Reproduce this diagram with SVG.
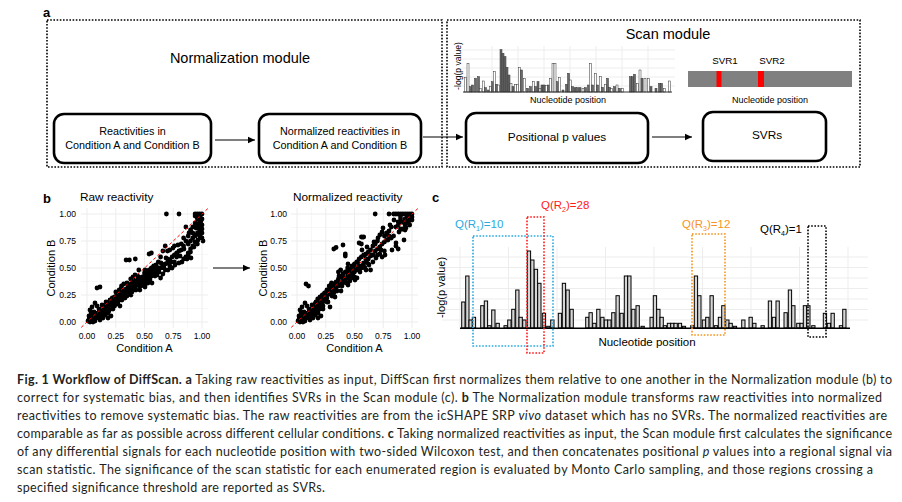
<svg xmlns="http://www.w3.org/2000/svg" width="902" height="502" viewBox="0 0 902 502">
<style>
text{font-family:"Liberation Sans",Arial,sans-serif;fill:#000}
.lbl{font-weight:bold;font-size:13px}
.mod{stroke:#000;stroke-width:1.6;stroke-dasharray:1.6 1.6;fill:none}
.box{fill:#fff;stroke:#000;stroke-width:2.6}
.bt{font-size:10.8px;text-anchor:middle}
.ar{stroke:#000;stroke-width:1.2;fill:none;marker-end:url(#ah)}
.g{stroke:#ebebeb;stroke-width:0.9;fill:none}
.gm{stroke:#f2f2f2;stroke-width:0.6;fill:none}
.tk{font-size:8.6px;fill:#4d4d4d}
.ax{font-size:11px}
.ab rect{stroke:#333;stroke-width:0.5}
.w{fill:#fff}.d{fill:#6a6a6a}
.cb rect{fill:#d6d6d6;stroke:#000;stroke-width:1}
.q{font-size:11.5px}
.pt{stroke:#000;stroke-width:4.8;stroke-linecap:round;fill:none}
.cap{font-family:Lato,"Open Sans",sans-serif;font-size:12.5px;fill:#231f20}
</style>
<defs>
<marker id="ah" markerWidth="8" markerHeight="8" refX="7" refY="4" orient="auto" markerUnits="userSpaceOnUse">
<path d="M0,0.8 L7,4 L0,7.2 Z" fill="#000"/>
</marker>
</defs>
<rect width="902" height="502" fill="#fff"/>

<!-- Panel a -->
<text class="lbl" x="43" y="17">a</text>
<g id="normalization-module">
<rect class="mod" x="47" y="20" width="395" height="147"/>
<text x="240" y="63" style="font-size:14.5px;text-anchor:middle">Normalization module</text>
</g>
<g id="scan-module">
<rect class="mod" x="447" y="20" width="413" height="147"/>
<text x="668" y="39" style="font-size:14.5px;text-anchor:middle">Scan module</text>
</g>
<g id="node-raw">
<rect class="box" x="54" y="114" width="157" height="49" rx="10"/>
<text class="bt" x="132.5" y="135">Reactivities in</text>
<text class="bt" x="132.5" y="149">Condition A and Condition B</text>
</g>
<g id="node-normalized">
<rect class="box" x="259" y="114" width="162" height="49" rx="10"/>
<text class="bt" x="340" y="135">Normalized reactivities in</text>
<text class="bt" x="340" y="149">Condition A and Condition B</text>
</g>
<g id="node-pvalues">
<rect class="box" x="466" y="113" width="182" height="50" rx="10"/>
<text x="557" y="141" style="font-size:11.8px;text-anchor:middle">Positional p values</text>
</g>
<g id="node-svrs">
<rect class="box" x="703" y="112" width="123" height="49" rx="10"/>
<text x="767" y="139" style="font-size:11.8px;text-anchor:middle">SVRs</text>
</g>

<!-- small p-value chart -->
<g id="mini-pvalue-chart">
<path class="g" d="M462 50H675M462 59H675M462 68H675M462 77H675M462 86H675M492 46V93M518 46V93M544 46V93M570 46V93M596 46V93M622 46V93M648 46V93"/>
<g class="ab">
<rect class="w" x="464.5" y="77.3" width="2" height="14.7"/>
<rect class="w" x="467" y="63.3" width="2" height="28.7"/>
<rect class="d" x="469.5" y="86.7" width="2" height="5.3"/>
<rect class="d" x="471.5" y="85" width="2" height="7"/>
<rect class="d" x="474.5" y="78.3" width="2" height="13.7"/>
<rect class="d" x="477.5" y="76.7" width="2" height="15.3"/>
<rect class="w" x="479.5" y="88.3" width="2" height="3.7"/>
<rect class="w" x="482.5" y="81" width="2" height="11"/>
<rect class="d" x="484.5" y="87.7" width="2" height="4.3"/>
<rect class="d" x="487.5" y="90" width="2" height="2"/>
<rect class="w" x="489.5" y="86.7" width="2" height="5.3"/>
<rect class="d" x="491.5" y="81.7" width="2" height="10.3"/>
<rect class="w" x="493.5" y="71.7" width="2" height="20.3"/>
<rect class="d" x="495.5" y="84.3" width="2" height="7.7"/>
<rect class="w" x="497.5" y="85" width="2" height="7"/>
<rect class="d" x="500" y="49.7" width="2" height="42.3"/>
<rect class="d" x="502" y="53.3" width="2" height="38.7"/>
<rect class="d" x="504" y="56.7" width="2" height="35.3"/>
<rect class="d" x="506" y="67.3" width="2" height="24.7"/>
<rect class="d" x="508" y="75" width="2" height="17"/>
<rect class="w" x="510" y="83.3" width="2" height="8.7"/>
<rect class="d" x="512" y="86.7" width="2" height="5.3"/>
<rect class="w" x="514.5" y="84.3" width="2" height="7.7"/>
<rect class="w" x="516.5" y="84.3" width="2" height="7.7"/>
<rect class="w" x="518.5" y="67.3" width="2" height="24.7"/>
<rect class="d" x="520.5" y="70" width="2" height="22"/>
<rect class="w" x="523.5" y="78.3" width="2" height="13.7"/>
<rect class="d" x="526.5" y="88.3" width="2" height="3.7"/>
<rect class="d" x="529.5" y="86.7" width="2" height="5.3"/>
<rect class="w" x="532.5" y="81.7" width="2" height="10.3"/>
<rect class="d" x="534.5" y="86.7" width="2" height="5.3"/>
<rect class="d" x="537" y="81.7" width="2" height="10.3"/>
<rect class="w" x="539" y="88.3" width="2" height="3.7"/>
<rect class="d" x="541" y="85" width="2" height="7"/>
<rect class="d" x="543" y="85" width="2" height="7"/>
<rect class="w" x="545.5" y="85.7" width="2" height="6.3"/>
<rect class="d" x="547.5" y="85" width="2" height="7"/>
<rect class="w" x="549.5" y="78.3" width="2" height="13.7"/>
<rect class="w" x="552" y="63.3" width="2" height="28.7"/>
<rect class="w" x="554" y="63.3" width="2" height="28.7"/>
<rect class="d" x="556.5" y="81.7" width="2" height="10.3"/>
<rect class="w" x="558.5" y="77.7" width="2" height="14.3"/>
<rect class="d" x="562" y="90" width="2" height="2"/>
<rect class="d" x="565.5" y="84.3" width="2" height="7.7"/>
<rect class="d" x="567.5" y="73.3" width="2" height="18.7"/>
<rect class="w" x="569.5" y="80" width="2" height="12"/>
<rect class="d" x="571.5" y="86.7" width="2" height="5.3"/>
<rect class="d" x="574" y="87.7" width="2" height="4.3"/>
<rect class="d" x="576.5" y="87.7" width="2" height="4.3"/>
<rect class="d" x="579" y="87.7" width="2" height="4.3"/>
<rect class="w" x="582" y="88.3" width="2" height="3.7"/>
<rect class="d" x="584.5" y="87.7" width="2" height="4.3"/>
<rect class="d" x="587.5" y="85" width="2" height="7"/>
<rect class="w" x="589.5" y="63.3" width="2" height="28.7"/>
<rect class="d" x="591.5" y="85" width="2" height="7"/>
<rect class="w" x="594.5" y="73.3" width="2" height="18.7"/>
<rect class="d" x="596.5" y="85" width="2" height="7"/>
<rect class="w" x="599.5" y="76.7" width="2" height="15.3"/>
<rect class="d" x="601.5" y="87.3" width="2" height="4.7"/>
<rect class="w" x="604.5" y="84.3" width="2" height="7.7"/>
<rect class="d" x="606.5" y="78.3" width="2" height="13.7"/>
<rect class="d" x="608.5" y="87.3" width="2" height="4.7"/>
<rect class="w" x="610.5" y="88.3" width="2" height="3.7"/>
<rect class="d" x="613.5" y="86.7" width="2" height="5.3"/>
<rect class="w" x="616" y="85" width="2" height="7"/>
<rect class="d" x="618.5" y="88.3" width="2" height="3.7"/>
<rect class="w" x="621.5" y="88.3" width="2" height="3.7"/>
<rect class="d" x="629.5" y="76.7" width="2" height="15.3"/>
<rect class="d" x="631.5" y="76.7" width="2" height="15.3"/>
<rect class="d" x="633.5" y="74.3" width="2" height="17.7"/>
<rect class="w" x="636.5" y="83.3" width="2" height="8.7"/>
<rect class="w" x="639" y="70" width="2" height="22"/>
<rect class="d" x="641" y="78.3" width="2" height="13.7"/>
<rect class="w" x="644" y="78.3" width="2" height="13.7"/>
<rect class="w" x="647.5" y="78.3" width="2" height="13.7"/>
<rect class="d" x="650" y="86.7" width="2" height="5.3"/>
<rect class="d" x="655" y="88.3" width="2" height="3.7"/>
<rect class="d" x="658.5" y="83.3" width="2" height="8.7"/>
<rect class="d" x="660.5" y="83.3" width="2" height="8.7"/>
<rect class="w" x="663.5" y="88.3" width="2" height="3.7"/>
<rect class="w" x="668.5" y="81" width="2" height="11"/>
</g>
<path d="M463 92H672" stroke="#333" stroke-width="1"/>
<text transform="translate(461,66) rotate(-90)" style="font-size:8.6px;text-anchor:middle">-log(p value)</text>
<text x="568" y="103" style="font-size:9px;text-anchor:middle">Nucleotide position</text>
</g>

<!-- SVR track -->
<g id="svr-track">
<rect x="688" y="71" width="164" height="16" fill="#808080"/>
<rect x="716.5" y="71" width="5" height="16" fill="#ff0000"/>
<rect x="758" y="71" width="6" height="16" fill="#ff0000"/>
<text x="725" y="64" style="font-size:9.8px;text-anchor:middle">SVR1</text>
<text x="772" y="64" style="font-size:9.8px;text-anchor:middle">SVR2</text>
<text x="770" y="103" style="font-size:9px;text-anchor:middle">Nucleotide position</text>
</g>

<!-- Panel b -->
<text class="lbl" x="43" y="203">b</text>
<g id="plot-raw">
<text x="80" y="201" style="font-size:11.8px">Raw reactivity</text>
<path class="gm" d="M81 308.5H208M81 281.5H208M81 254.5H208M81 227.5H208M101.4 208V328M130.1 208V328M158.9 208V328M187.6 208V328"/>
<path class="g" d="M81 322H208M81 295H208M81 268H208M81 241H208M81 214H208M87 208V328M115.75 208V328M144.5 208V328M173.25 208V328M202 208V328"/>
<path class="pt" d="M88 321h0M89 319h0M90 322h0M91 318h0M92 320h0M93 316h0M94 319h0M95 321h0M96 315h0M97 317h0M98 313h0M99 318h0M100 312h0M101 316h0M102 310h0M103 314h0M104 312h0M105 315h0M106 308h0M107 311h0M108 313h0M109 306h0M110 309h0M89 316h0M91 313h0M94 312h0M96 318h0M99 309h0M90 310h0M93 322h0M100 320h0M103 318h0M105 306h0M108 318h0M111 316h0M112 304h0M106 302h0M97 306h0M92 307h0M95 303h0M97 288h0M100 287h0M105.4 309h0M105.4 306h0M105.4 311h0M107.7 307h0M107.7 303h0M107.7 309h0M110 306h0M110 300h0M110 304h0M110 308h0M112.3 305h0M112.3 298h0M112.3 301h0M114.6 303h0M114.6 297h0M114.6 306h0M116.9 300h0M116.9 294h0M116.9 298h0M116.9 304h0M119.2 299h0M119.2 295h0M119.2 290h0M121.5 298h0M121.5 293h0M121.5 296h0M121.5 287h0M123.8 295h0M123.8 291h0M123.8 297h0M123.8 284h0M126.1 294h0M126.1 289h0M126.1 292h0M126.1 260h0M128.4 292h0M128.4 286h0M128.4 290h0M129.4 260h0M130.7 291h0M130.7 284h0M130.7 289h0M130.7 279h0M133 289h0M133 283h0M133 286h0M133 277h0M135.3 287h0M135.3 281h0M135.3 284h0M135.3 259h0M137.6 285h0M137.6 280h0M137.6 283h0M137.6 276h0M139.9 284h0M139.9 278h0M139.9 282h0M139.9 290h0M142.2 283h0M142.2 277h0M142.2 280h0M144.5 281h0M144.5 273h0M144.5 278h0M144.5 284h0M146.8 279h0M146.8 272h0M146.8 276h0M149.1 278h0M149.1 270h0M149.1 274h0M149.1 254h0M151.4 276h0M151.4 268h0M151.4 272h0M151.4 253h0M153.7 273h0M153.7 266h0M153.7 271h0M156 272h0M156 265h0M156 269h0M158.3 270h0M158.3 262h0M158.3 268h0M160.6 268h0M160.6 257h0M160.6 278h0M162.9 266h0M162.9 274h0M162.9 251h0M165.2 264h0M165.2 270h0M165.2 246h0M166.4 214h0M167.5 263h0M167.5 259h0M167.5 251h0M169.8 260h0M169.8 266h0M169.8 250h0M172.1 257h0M172.1 268h0M174.4 255h0M174.4 262h0M174.4 246h0M176.7 253h0M176.7 257h0M179 214h0M179 251h0M179 263h0M181.3 250h0M181.3 244h0M183.6 246h0M183.6 259h0M183.6 238h0M185.9 257h0M185.9 241h0M185.9 227h0M188.2 253h0M188.2 244h0M188.2 236h0M188.2 255h0M190.5 252h0M190.5 241h0M190.5 230h0M190.5 249h0M192.8 246h0M192.8 238h0M192.8 227h0M192.8 233h0M195.1 242h0M195.1 236h0M195.1 223h0M195.1 216h0M195.1 214h0M197.4 244h0M197.4 233h0M197.4 225h0M197.4 214h0M197.4 219h0M199.7 236h0M199.7 227h0M199.7 222h0M199.7 214h0M199.7 231h0M202 233h0M202 225h0M202 219h0M202 214h0M202 238h0M202 229h0M115.8 292h0M121.5 286h0M138.8 270h0M118 302h0M113 309h0M102 305h0M125 298h0M131 295h0M140 287h0M148 283h0M155 276h0M120 306h0M104 315h0M106 313h0M109 311h0M111 307h0M113 304h0M115 301h0M117 302h0M119 297h0M122 300h0M124 292h0M127 296h0M129 288h0M132 292h0M134 287h0M136 290h0M138 282h0M141 286h0M143 279h0M145 287h0M147 282h0M150 279h0M152 283h0M154 268h0M157 275h0M159 272h0M161 263h0M164 268h0M166 258h0M168 270h0M171 262h0M173 248h0M175 265h0M178 245h0M180 256h0M182 262h0M184 249h0M187 259h0M189 233h0M191 258h0M194 247h0M196 228h0M198 240h0M201 221h0M203 241h0M200 218h0M127 283h0M131 279h0M120 290h0M145 270h0M135 275h0"/>
<path d="M81.25 327.4L207.75 208.6" stroke="#ff0000" stroke-width="1" stroke-dasharray="3 2.5"/>
<g class="tk" style="text-anchor:end">
<text x="76" y="325">0.00</text><text x="76" y="298">0.25</text><text x="76" y="271">0.50</text><text x="76" y="244">0.75</text><text x="76" y="217">1.00</text>
</g>
<g class="tk" style="text-anchor:middle">
<text x="87" y="339">0.00</text><text x="115.75" y="339">0.25</text><text x="144.5" y="339">0.50</text><text x="173.25" y="339">0.75</text><text x="202" y="339">1.00</text>
</g>
<text class="ax" x="144.5" y="352" style="text-anchor:middle">Condition A</text>
<text class="ax" transform="translate(55,268) rotate(-90)" style="text-anchor:middle">Condition B</text>
</g>

<g id="plot-normalized">
<text x="293" y="201" style="font-size:11.8px">Normalized reactivity</text>
<path class="gm" d="M291 308.5H418M291 281.5H418M291 254.5H418M291 227.5H418M311.4 208V328M340.1 208V328M368.9 208V328M397.6 208V328"/>
<path class="g" d="M291 322H418M291 295H418M291 268H418M291 241H418M291 214H418M297 208V328M325.75 208V328M354.5 208V328M383.25 208V328M412 208V328"/>
<path class="pt" d="M298 321h0M299 319h0M300 322h0M301 318h0M302 320h0M303 316h0M304 319h0M305 321h0M306 315h0M307 317h0M308 313h0M309 318h0M310 312h0M311 316h0M312 310h0M313 314h0M314 312h0M315 315h0M316 308h0M317 311h0M318 313h0M319 306h0M320 309h0M299 316h0M301 313h0M304 312h0M306 318h0M309 309h0M300 310h0M303 322h0M310 320h0M313 318h0M315 306h0M318 318h0M321 316h0M322 304h0M316 302h0M307 306h0M302 307h0M305 303h0M308.5 286h0M306 284h0M315.4 307h0M315.4 303h0M315.4 309h0M317.7 305h0M317.7 299h0M317.7 306h0M320 303h0M320 297h0M320 305h0M320 300h0M322.3 300h0M322.3 295h0M322.3 303h0M324.6 298h0M324.6 293h0M324.6 301h0M326.9 295h0M326.9 291h0M326.9 298h0M326.9 290h0M329.2 294h0M329.2 289h0M329.2 286h0M331.5 293h0M331.5 286h0M331.5 291h0M331.5 283h0M333.8 290h0M333.8 284h0M333.8 293h0M333.8 249h0M336.1 287h0M336.1 282h0M336.1 290h0M336.1 247.5h0M338.4 286h0M338.4 279h0M338.4 284h0M338.4 272h0M340.7 284h0M340.7 277h0M340.7 283h0M340.7 270h0M343 282h0M343 274h0M343 281h0M343 245h0M345.3 280h0M345.3 272h0M345.3 256h0M345.3 254h0M347.6 278h0M347.6 271h0M347.6 276h0M347.6 268h0M349.9 277h0M349.9 269h0M349.9 273h0M349.9 281h0M352.2 274h0M352.2 266h0M352.2 271h0M354.5 272h0M354.5 264h0M354.5 269h0M354.5 277h0M356.8 270h0M356.8 262h0M356.8 268h0M359.1 268h0M359.1 259h0M359.1 266h0M359.1 243h0M361.4 266h0M361.4 257h0M361.4 268h0M361.4 237h0M361.4 244h0M363.7 263h0M363.7 255h0M363.7 266h0M363.7 237h0M366 262h0M366 254h0M366 259h0M366 270h0M368.3 259h0M368.3 252h0M368.3 264h0M370.6 256h0M370.6 250h0M370.6 270h0M372.9 255h0M372.9 246h0M372.9 262h0M375.2 251h0M375.2 214h0M375.2 244h0M377.5 249h0M377.5 255h0M377.5 241h0M379.8 247h0M379.8 254h0M379.8 235h0M382.1 244h0M382.1 257h0M382.1 232h0M384.4 242h0M384.4 236h0M384.4 251h0M386.7 240h0M386.7 233h0M389 236h0M389 214h0M389 231h0M391.3 238h0M391.3 227h0M393.6 236h0M393.6 214h0M395.9 246h0M395.9 227h0M395.9 214h0M398.2 249h0M398.2 222h0M398.2 214h0M398.2 225h0M400.5 229h0M400.5 218h0M400.5 214h0M400.5 216h0M402.8 229h0M402.8 222h0M402.8 214h0M405.1 225h0M405.1 214h0M405.1 219h0M405.1 230h0M407.4 223h0M407.4 214h0M407.4 216h0M409.7 218h0M409.7 214h0M409.7 225h0M412 220h0M412 214h0M412 217h0M323 309h0M328 302h0M335 297h0M341 291h0M348 285h0M357 278h0M330 307h0M312 305h0M314 313h0M316 310h0M319 308h0M321 300h0M323 306h0M325 296h0M327 302h0M330 290h0M332 296h0M334 285h0M337 291h0M339 276h0M342 286h0M344 278h0M346 283h0M348 264h0M351 278h0M353 268h0M355 280h0M358 262h0M360 272h0M362 250h0M365 268h0M367 247h0M369 265h0M372 255h0M374 242h0M376 258h0M378 238h0M381 250h0M383 228h0M385 255h0M388 240h0M390 225h0M392 250h0M394 220h0M396 243h0M399 232h0M401 222h0M404 240h0M406 228h0M409 221h0"/>
<path d="M291.25 327.4L417.75 208.6" stroke="#ff0000" stroke-width="1" stroke-dasharray="3 2.5"/>
<g class="tk" style="text-anchor:end">
<text x="287" y="325">0.00</text><text x="287" y="298">0.25</text><text x="287" y="271">0.50</text><text x="287" y="244">0.75</text><text x="287" y="217">1.00</text>
</g>
<g class="tk" style="text-anchor:middle">
<text x="297" y="339">0.00</text><text x="325.75" y="339">0.25</text><text x="354.5" y="339">0.50</text><text x="383.25" y="339">0.75</text><text x="412" y="339">1.00</text>
</g>
<text class="ax" x="354.5" y="352" style="text-anchor:middle">Condition A</text>
<text class="ax" transform="translate(267,268) rotate(-90)" style="text-anchor:middle">Condition B</text>
</g>

<g id="connectors">
<path class="ar" d="M215 140H255"/>
<path class="ar" d="M423 137H463"/>
<path class="ar" d="M652 137H692"/>
<path class="ar" d="M213 268H250"/>
</g>

<!-- Panel c -->
<text class="lbl" x="432" y="202">c</text>
<g id="scan-chart">
<path class="g" d="M442 257H868M442 267.5H868M442 278H868M442 288.5H868M442 299H868M442 309.5H868M442 320H868M460 247V330M508.5 247V330M557 247V330M605.5 247V330M654 247V330M702.5 247V330M751 247V330M799.5 247V330M848 247V330"/>
<g class="cb">
<rect x="461.7" y="302" width="3.3" height="26"/>
<rect x="465.7" y="276" width="3.3" height="52"/>
<rect x="469" y="320" width="3.3" height="8"/>
<rect x="472.3" y="317.3" width="3.3" height="10.7"/>
<rect x="480.7" y="305.7" width="3.3" height="22.3"/>
<rect x="484.3" y="301" width="3.3" height="27"/>
<rect x="487.7" y="325.7" width="3.3" height="2.3"/>
<rect x="491.7" y="310" width="3.3" height="18"/>
<rect x="496" y="323.3" width="3.3" height="4.7"/>
<rect x="504" y="325.7" width="3.3" height="2.3"/>
<rect x="507.7" y="320" width="3.3" height="8"/>
<rect x="511.7" y="309.3" width="3.3" height="18.7"/>
<rect x="515.7" y="290" width="3.3" height="38"/>
<rect x="519" y="317.3" width="3.3" height="10.7"/>
<rect x="522.7" y="320" width="3.3" height="8"/>
<rect x="527.3" y="251" width="3.3" height="77"/>
<rect x="530.7" y="260" width="3.3" height="68"/>
<rect x="534.3" y="269.3" width="3.3" height="58.7"/>
<rect x="537.7" y="283.3" width="3.3" height="44.7"/>
<rect x="542.3" y="313.3" width="3.3" height="14.7"/>
<rect x="546.7" y="326.3" width="3.3" height="1.7"/>
<rect x="550.7" y="320" width="3.3" height="8"/>
<rect x="558.3" y="313.3" width="3.3" height="14.7"/>
<rect x="562.3" y="283.3" width="3.3" height="44.7"/>
<rect x="566" y="290" width="3.3" height="38"/>
<rect x="570" y="309.3" width="3.3" height="18.7"/>
<rect x="585.7" y="317.3" width="3.3" height="10.7"/>
<rect x="589" y="312.7" width="3.3" height="15.3"/>
<rect x="592.7" y="323.3" width="3.3" height="4.7"/>
<rect x="596.7" y="309.3" width="3.3" height="18.7"/>
<rect x="600.7" y="317.3" width="3.3" height="10.7"/>
<rect x="604.3" y="320" width="3.3" height="8"/>
<rect x="607.7" y="320" width="3.3" height="8"/>
<rect x="611.7" y="312.7" width="3.3" height="15.3"/>
<rect x="616" y="295.7" width="3.3" height="32.3"/>
<rect x="620" y="313.3" width="3.3" height="14.7"/>
<rect x="624.3" y="276" width="3.3" height="52"/>
<rect x="627.7" y="276" width="3.3" height="52"/>
<rect x="631.7" y="309.3" width="3.3" height="18.7"/>
<rect x="636" y="305.7" width="3.3" height="22.3"/>
<rect x="641" y="326.3" width="3.3" height="1.7"/>
<rect x="650" y="317.3" width="3.3" height="10.7"/>
<rect x="653.3" y="295.7" width="3.3" height="32.3"/>
<rect x="656.7" y="309.3" width="3.3" height="18.7"/>
<rect x="660" y="317.3" width="3.3" height="10.7"/>
<rect x="663.3" y="325.7" width="3.3" height="2.3"/>
<rect x="667.3" y="323.3" width="3.3" height="4.7"/>
<rect x="670.7" y="323.3" width="3.3" height="4.7"/>
<rect x="674" y="323.3" width="3.3" height="4.7"/>
<rect x="678.3" y="323.3" width="3.3" height="4.7"/>
<rect x="682.3" y="326.3" width="3.3" height="1.7"/>
<rect x="690.7" y="325.7" width="3.3" height="2.3"/>
<rect x="694.3" y="276" width="3.3" height="52"/>
<rect x="697.7" y="295.7" width="3.3" height="32.3"/>
<rect x="702.3" y="320" width="3.3" height="8"/>
<rect x="705.7" y="317.3" width="3.3" height="10.7"/>
<rect x="710" y="295.7" width="3.3" height="32.3"/>
<rect x="714.3" y="325.7" width="3.3" height="2.3"/>
<rect x="718.3" y="317.3" width="3.3" height="10.7"/>
<rect x="721.7" y="305.7" width="3.3" height="22.3"/>
<rect x="725.7" y="320" width="3.3" height="8"/>
<rect x="729" y="323.3" width="3.3" height="4.7"/>
<rect x="733.3" y="326.3" width="3.3" height="1.7"/>
<rect x="741.7" y="320" width="3.3" height="8"/>
<rect x="749" y="317.3" width="3.3" height="10.7"/>
<rect x="752.7" y="323.3" width="3.3" height="4.7"/>
<rect x="761" y="325.7" width="3.3" height="2.3"/>
<rect x="768.3" y="301" width="3.3" height="27"/>
<rect x="772.3" y="317.3" width="3.3" height="10.7"/>
<rect x="776" y="301" width="3.3" height="27"/>
<rect x="784" y="312.7" width="3.3" height="15.3"/>
<rect x="788.3" y="290" width="3.3" height="38"/>
<rect x="791.7" y="305.7" width="3.3" height="22.3"/>
<rect x="796.7" y="323.3" width="3.3" height="4.7"/>
<rect x="800" y="323.3" width="3.3" height="4.7"/>
<rect x="803.3" y="305.7" width="3.3" height="22.3"/>
<rect x="806.7" y="305.7" width="3.3" height="22.3"/>
<rect x="811.7" y="325.7" width="3.3" height="2.3"/>
<rect x="823.3" y="313.3" width="3.3" height="14.7"/>
<rect x="827.3" y="323.3" width="3.3" height="4.7"/>
<rect x="831" y="313.3" width="3.3" height="14.7"/>
<rect x="839.3" y="325.7" width="3.3" height="2.3"/>
<rect x="842.7" y="309.3" width="3.3" height="18.7"/>
</g>
<path d="M460 328.3H850" stroke="#000" stroke-width="1.4"/>
<text class="ax" transform="translate(445,287.5) rotate(-90)" style="text-anchor:middle">-log(p value)</text>
<text x="647" y="346" style="font-size:11.5px;text-anchor:middle">Nucleotide position</text>
</g>

<g id="region-r1">
<rect x="473" y="236" width="80" height="110" fill="none" stroke="#29a9e0" stroke-width="1.6" stroke-dasharray="1.6 1.6"/>
<text class="q" x="455" y="228" style="fill:#29a9e0">Q(R<tspan dy="2.5" style="font-size:7px">1</tspan><tspan dy="-2.5">)=10</tspan></text>
</g>
<g id="region-r2">
<rect x="527" y="217" width="17" height="136" fill="none" stroke="#ff1a1a" stroke-width="1.6" stroke-dasharray="1.6 1.6"/>
<text class="q" x="541" y="209" style="fill:#ff1a1a">Q(R<tspan dy="2.5" style="font-size:7px">2</tspan><tspan dy="-2.5">)=28</tspan></text>
</g>
<g id="region-r3">
<rect x="692" y="234" width="33" height="101" fill="none" stroke="#f7941d" stroke-width="1.6" stroke-dasharray="1.6 1.6"/>
<text class="q" x="682" y="228" style="fill:#f7941d">Q(R<tspan dy="2.5" style="font-size:7px">3</tspan><tspan dy="-2.5">)=12</tspan></text>
</g>
<g id="region-r4">
<rect x="808" y="226" width="18" height="111" fill="none" stroke="#000" stroke-width="1.6" stroke-dasharray="1.6 1.6"/>
<text class="q" x="760" y="233">Q(R<tspan dy="2.5" style="font-size:7px">4</tspan><tspan dy="-2.5">)=1</tspan></text>
</g>

<!-- Caption -->
<g id="caption" class="cap">
<text class="cap" x="17" y="384" textLength="875" lengthAdjust="spacing"><tspan font-weight="bold">Fig. 1 Workflow of DiffScan. a</tspan> Taking raw reactivities as input, DiffScan first normalizes them relative to one another in the Normalization module (b) to</text>
<text class="cap" x="17" y="402" textLength="865" lengthAdjust="spacing">correct for systematic bias, and then identifies SVRs in the Scan module (c). <tspan font-weight="bold">b</tspan> The Normalization module transforms raw reactivities into normalized</text>
<text class="cap" x="17" y="420" textLength="870" lengthAdjust="spacing">reactivities to remove systematic bias. The raw reactivities are from the icSHAPE SRP <tspan font-style="italic">vivo</tspan> dataset which has no SVRs. The normalized reactivities are</text>
<text class="cap" x="17" y="438" textLength="875" lengthAdjust="spacing">comparable as far as possible across different cellular conditions. <tspan font-weight="bold">c</tspan> Taking normalized reactivities as input, the Scan module first calculates the significance</text>
<text class="cap" x="17" y="456" textLength="875" lengthAdjust="spacing">of any differential signals for each nucleotide position with two-sided Wilcoxon test, and then concatenates positional <tspan font-style="italic">p</tspan> values into a regional signal via</text>
<text class="cap" x="17" y="474" textLength="856" lengthAdjust="spacing">scan statistic. The significance of the scan statistic for each enumerated region is evaluated by Monto Carlo sampling, and those regions crossing a</text>
<text class="cap" x="17" y="492" textLength="308" lengthAdjust="spacing">specified significance threshold are reported as SVRs.</text>
</g>
</svg>
